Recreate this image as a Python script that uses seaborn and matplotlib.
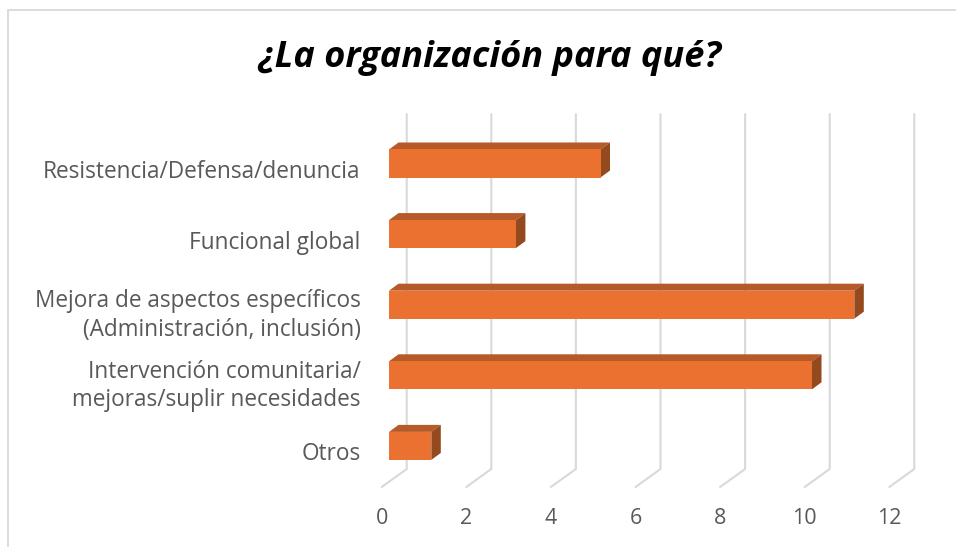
import matplotlib
matplotlib.use('Agg')
import matplotlib.pyplot as plt
from matplotlib.lines import Line2D
from matplotlib.transforms import Affine2D
import pandas as pd
import seaborn as sns

categorias = ['Resistencia/Defensa/denuncia',
              'Funcional global',
              'Mejora de aspectos específicos\n(Administración, inclusión)',
              'Intervención comunitaria/\nmejoras/suplir necesidades',
              'Otros']
valores = [5, 3, 11, 10, 1]
ticks_x = [0, 2, 4, 6, 8, 10, 12]
titulo = '¿La organización para qué?'

sns.set_style('white')
plt.rcParams['font.family'] = ['Open Sans', 'DejaVu Sans']

W, H = 956, 547
GRIS = '#D9D9D9'
TEXTO = '#595959'

# pixels per unit on each axis, and the box of the plot in pixels
px_x = 42.3
px_y = 70.6
x0 = 389
y0 = 163.5

fig = plt.figure(figsize=(W / 100, H / 100), dpi=100)
ymin, ymax = -0.7, 4.6
xmax = 13
ax = fig.add_axes([x0 / W,
                   1 - (y0 + ymax * px_y) / H,
                   xmax * px_x / W,
                   (ymax - ymin) * px_y / H])

df = pd.DataFrame({'categoria': categorias, 'valor': valores})
sns.barplot(data=df, x='valor', y='categoria', color='#EB7131', saturation=1,
            width=0.397, orient='y', ax=ax, zorder=4, linewidth=0)

ax.set_xlim(0, xmax)
ax.set_ylim(ymax, ymin)
ax.set_xlabel('')
ax.set_ylabel('')
sns.despine(ax=ax, left=True, bottom=True)

# depth of the bars and of the floor, in data units
prof_x = 9.5 / px_x
prof_y = 7 / px_y
atras = 17.7 / px_x
frente = -7.3 / px_x
piso = (469 - y0) / px_y

# back wall + floor lines
for t in ticks_x:
    ax.plot([t + atras, t + atras, t + frente], [ymin, piso, ymax - 0.018],
            color=GRIS, lw=1.5, clip_on=False, zorder=1, solid_joinstyle='miter')

# top and side faces of each bar
alto = 0.397 / 2
for i, v in enumerate(valores):
    ax.fill([0, v, v + prof_x, prof_x],
            [i - alto, i - alto, i - alto - prof_y, i - alto - prof_y],
            color='#B55A28', lw=0, clip_on=False, zorder=3)
    ax.fill([v, v + prof_x, v + prof_x, v],
            [i - alto, i - alto - prof_y, i + alto - prof_y, i + alto],
            color='#944A1E', lw=0, clip_on=False, zorder=3)

ax.set_xticks(ticks_x)
ax.set_xticklabels([str(t) for t in ticks_x])
ax.tick_params(axis='x', length=0, pad=14, labelsize=15.5, labelcolor=TEXTO)
ax.tick_params(axis='y', length=0, pad=20.5, labelsize=16.3, labelcolor=TEXTO)

# labels sit on the front of the floor, not on the bars
for lab in ax.get_xticklabels():
    lab.set_transform(lab.get_transform() + Affine2D().translate(-7.3, 0))
for lab in ax.get_yticklabels():
    lab.set_transform(lab.get_transform() + Affine2D().translate(0, -5.5))
    lab.set_linespacing(1.25)

fig.text(489.5 / W, 1 - 58 / H, titulo, ha='center', va='center',
         fontsize=26, fontweight='bold', fontstyle='italic', color='black')

# chart frame, cut off by the screenshot
fig.add_artist(Line2D([8 / W, 8 / W, 1], [0, 1 - 9.5 / H, 1 - 9.5 / H],
                      color=GRIS, lw=1.3, solid_joinstyle='miter'))

fig.savefig('out.png', dpi=100)
